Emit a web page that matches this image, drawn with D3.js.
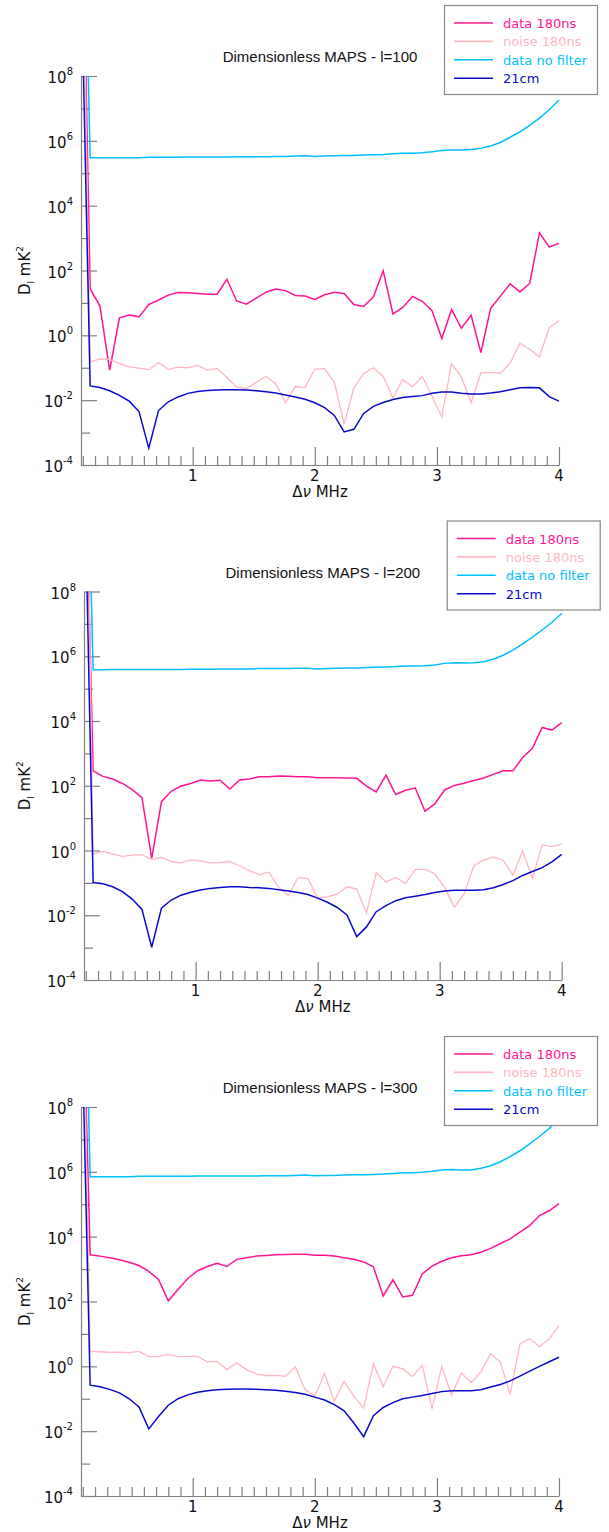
<!DOCTYPE html>
<html>
<head>
<meta charset="utf-8">
<script src="https://cdn.jsdelivr.net/npm/d3@7"></script>
<style>
  body { margin: 0; background: #fff; }
  svg { display: block; }
  text { font-family: "DejaVu Sans", sans-serif; }
</style>
</head>
<body>
<script>
(function(d3){

  // frequency separation, MHz
  var freq = [0.08,0.16,0.24,0.32,0.40,0.48,0.56,0.64,0.72,0.80,0.88,0.96,1.04,1.12,1.20,1.28,1.36,1.44,1.52,1.60,
              1.68,1.76,1.84,1.92,2.00,2.08,2.16,2.24,2.32,2.40,2.48,2.56,2.64,2.72,2.80,2.88,2.96,3.04,3.12,3.20,
              3.28,3.36,3.44,3.52,3.60,3.68,3.76,3.84,3.92,4.00];

  // values are log10(D_l / mK^2)
  var l100_data    = [16.7, 1.43,0.91,-1.07,0.54,0.63, 0.57,0.95,1.09,1.24,1.32, 1.31,1.29,1.27,1.27,1.73, 1.06,0.96,1.15,1.33,1.43,
                      1.38,1.23,1.21,1.11,1.25, 1.33,1.29,0.95,0.89,1.19, 1.99,0.66,0.86,1.20,1.05, 0.76,-0.10,0.80,0.22,0.62,
                      -0.53,0.83,1.21,1.59,1.34, 1.60,3.16,2.72,2.84];
  var l100_noise   = [16.8, -0.82,-0.73,-0.74,-0.87,-0.97, -1.01,-1.06,-0.84,-1.05,-0.98, -1.00,-0.93,-1.08,-1.02,-1.30, -1.60,-1.64,-1.45,-1.27,-1.49,
                      -2.08,-1.58,-1.61,-1.04,-1.03, -1.45,-2.74,-1.62,-1.18,-1.00, -1.27,-1.93,-1.36,-1.59,-1.27, -1.88,-2.51,-0.88,-1.28,-2.08,
                      -1.16,-1.14,-1.17,-0.86,-0.24, -0.43,-0.67,0.24,0.45];
  var l100_nofilt  = [18.7, 5.48,5.48,5.48,5.48,5.48, 5.48,5.49,5.49,5.49,5.49, 5.50,5.50,5.50,5.50,5.50, 5.51,5.51,5.51,5.51,5.52,
                      5.52,5.53,5.54,5.52,5.53, 5.54,5.55,5.55,5.56,5.57, 5.58,5.60,5.62,5.62,5.63, 5.66,5.70,5.72,5.72,5.73,
                      5.77,5.84,5.95,6.11,6.28, 6.48,6.70,6.96,7.26];
  var l100_21cm    = [12.5, -1.56,-1.61,-1.71,-1.85,-2.03, -2.35,-3.48,-2.32,-2.05,-1.90, -1.79,-1.73,-1.70,-1.69,-1.68, -1.68,-1.69,-1.71,-1.74,-1.78,
                      -1.84,-1.90,-1.97,-2.08,-2.23, -2.47,-2.98,-2.90,-2.41,-2.19, -2.07,-1.98,-1.92,-1.89,-1.86, -1.79,-1.75,-1.75,-1.79,-1.81,
                      -1.81,-1.78,-1.74,-1.68,-1.62, -1.61,-1.62,-1.89,-2.03];

  var l200_data    = [14.8, 2.46,2.29,2.21,2.07,1.88, 1.63,-0.24,1.51,1.83,1.99, 2.07,2.18,2.15,2.17,1.90, 2.18,2.21,2.28,2.28,2.30,
                      2.29,2.28,2.28,2.25,2.25, 2.25,2.24,2.23,1.99,1.81, 2.33,1.73,1.86,1.93,1.21, 1.44,1.87,2.01,2.08,2.16,
                      2.24,2.35,2.46,2.46,2.87, 3.16,3.80,3.72,3.95];
  var l200_noise   = [20.0, -0.12,-0.02,-0.11,-0.18,-0.14, -0.13,-0.28,-0.21,-0.34,-0.38, -0.29,-0.32,-0.38,-0.37,-0.34, -0.47,-0.62,-0.75,-0.67,-1.14,
                      -1.39,-0.83,-0.87,-1.46,-1.43, -1.35,-1.12,-1.19,-1.93,-0.69, -0.97,-0.83,-1.02,-0.58,-0.58, -0.72,-1.14,-1.75,-1.34,-0.47,
                      -0.30,-0.20,-0.30,-0.76,-0.02, -0.86,0.18,0.12,0.20];
  var l200_nofilt  = [17.7, 5.58,5.58,5.59,5.59,5.59, 5.59,5.59,5.59,5.59,5.59, 5.60,5.60,5.60,5.61,5.61, 5.61,5.61,5.62,5.62,5.62,
                      5.62,5.63,5.63,5.61,5.62, 5.63,5.64,5.64,5.65,5.66, 5.67,5.68,5.70,5.70,5.71, 5.73,5.78,5.80,5.79,5.80,
                      5.83,5.91,6.03,6.19,6.38, 6.59,6.81,7.05,7.32];
  var l200_21cm    = [13.5, -0.99,-1.03,-1.12,-1.27,-1.50, -1.82,-2.99,-1.78,-1.53,-1.38, -1.29,-1.22,-1.17,-1.14,-1.12, -1.12,-1.14,-1.15,-1.17,-1.21,
                      -1.25,-1.30,-1.36,-1.47,-1.60, -1.76,-1.99,-2.66,-2.36,-1.89, -1.70,-1.55,-1.46,-1.41,-1.36, -1.30,-1.25,-1.23,-1.23,-1.23,
                      -1.21,-1.15,-1.05,-0.93,-0.77, -0.65,-0.53,-0.35,-0.12];

  var l300_data    = [14.6, 3.44,3.40,3.35,3.29,3.21, 3.11,2.93,2.68,2.02,2.37, 2.71,2.95,3.08,3.18,3.08, 3.30,3.35,3.40,3.42,3.44,
                      3.45,3.46,3.46,3.43,3.43, 3.40,3.35,3.30,3.22,3.07, 2.17,2.67,2.14,2.19,2.85, 3.09,3.24,3.35,3.41,3.44,
                      3.52,3.64,3.79,3.93,4.14, 4.34,4.65,4.80,5.02];
  var l300_noise   = [16.0, 0.46,0.45,0.43,0.44,0.42, 0.46,0.30,0.30,0.37,0.30, 0.31,0.31,0.14,0.15,-0.10, 0.11,-0.10,-0.23,-0.29,-0.28,
                      -0.31,-0.02,-0.72,-0.91,-0.23, -1.08,-0.46,-0.92,-1.29,0.08, -0.63,0.00,-0.08,-0.31,0.03, -1.31,0.00,-0.89,-0.21,-0.50,
                      -0.18,0.39,0.13,-0.87,0.69, 0.85,0.61,0.85,1.25];
  var l300_nofilt  = [18.5, 5.85,5.85,5.85,5.85,5.85, 5.86,5.86,5.86,5.86,5.86, 5.86,5.87,5.87,5.87,5.87, 5.87,5.87,5.87,5.88,5.88,
                      5.88,5.89,5.90,5.88,5.89, 5.89,5.90,5.91,5.91,5.92, 5.93,5.95,5.97,5.97,5.99, 6.02,6.06,6.07,6.06,6.06,
                      6.11,6.19,6.31,6.47,6.65, 6.86,7.09,7.34,7.63];
  var l300_21cm    = [12.6, -0.58,-0.63,-0.71,-0.82,-1.00, -1.25,-1.93,-1.55,-1.20,-1.00, -0.88,-0.80,-0.75,-0.72,-0.71, -0.70,-0.70,-0.71,-0.72,-0.74,
                      -0.77,-0.81,-0.86,-0.95,-1.04, -1.18,-1.37,-1.75,-2.17,-1.52, -1.27,-1.12,-1.00,-0.95,-0.90, -0.84,-0.78,-0.75,-0.75,-0.75,
                      -0.72,-0.64,-0.56,-0.45,-0.30, -0.15,0.00,0.14,0.28];

  var seriesNames  = ['data 180ns', 'noise 180ns', 'data no filter', '21cm'];
  var seriesColors = ['#ff1493', '#ffb6c1', '#00bfff', '#0a0acd'];
  var ells         = ['100', '200', '300'];
  var xTickLabels  = ['1', '2', '3', '4'];
  var yTickExps    = [8, 6, 4, 2, 0, -2, -4];
  var yMinorExps   = [7, 5, 3, 1, -1, -3];

  var panelData = [
    [l100_data, l100_noise, l100_nofilt, l100_21cm],
    [l200_data, l200_noise, l200_nofilt, l200_21cm],
    [l300_data, l300_noise, l300_nofilt, l300_21cm]
  ];

  // where each panel sits on the page
  var layout = [
    {top: 76,    bottom: 465,  left: 81, right: 559},
    {top: 591.5, bottom: 980,  left: 84, right: 561.7},
    {top: 1107,  bottom: 1496, left: 81, right: 559}
  ];

  var axisColor = '#808080';

  var svg = d3.select('body').append('svg')
      .attr('width', 609)
      .attr('height', 1532);

  panelData.forEach(function(series, p) {
    var L = layout[p];
    var g = svg.append('g');

    var x = d3.scaleLinear().domain([0.085, 4]).range([L.left, L.right]);
    var y = d3.scaleLog().domain([1e-4, 1e8]).range([L.bottom, L.top]);

    var clipId = 'clip' + p;
    g.append('clipPath').attr('id', clipId)
      .append('rect')
        .attr('x', L.left).attr('y', L.top)
        .attr('width', L.right - L.left + 1).attr('height', L.bottom - L.top);

    // y axis, ticks point into the plot
    g.append('g')
        .attr('transform', 'translate(' + L.left + ',0)')
        .call(d3.axisRight(y)
          .tickValues(yTickExps.map(function(e){ return Math.pow(10, e); }))
          .tickSize(16).tickSizeOuter(0).tickFormat(''));
    var yMinor = g.append('g')
        .attr('transform', 'translate(' + L.left + ',0)')
        .call(d3.axisRight(y)
          .tickValues(yMinorExps.map(function(e){ return Math.pow(10, e); }))
          .tickSize(9).tickSizeOuter(0).tickFormat(''));
    yMinor.select('.domain').remove();

    // x axis
    g.append('g')
        .attr('transform', 'translate(0,' + L.bottom + ')')
        .call(d3.axisTop(x)
          .tickValues(xTickLabels.map(Number))
          .tickSize(18).tickSizeOuter(0).tickFormat(''));
    var minorX = d3.range(1, 40).map(function(k){ return k / 10; })
        .filter(function(v){ return Math.abs(v - Math.round(v)) > 1e-6; });
    var xMinor = g.append('g')
        .attr('transform', 'translate(0,' + L.bottom + ')')
        .call(d3.axisTop(x).tickValues(minorX).tickSize(9).tickSizeOuter(0).tickFormat(''));
    xMinor.select('.domain').remove();

    g.selectAll('.domain').attr('stroke', axisColor).attr('stroke-width', 1.2);
    g.selectAll('.tick line').attr('stroke', axisColor).attr('stroke-width', 1.2);

    // y tick labels 10^n
    var yl = g.selectAll('.ylab').data(yTickExps).enter().append('text')
        .attr('class', 'ylab')
        .attr('x', L.left - 8)
        .attr('y', function(e){ return y(Math.pow(10, e)) + 7; })
        .attr('text-anchor', 'end')
        .attr('font-size', 15)
        .attr('fill', '#111');
    yl.append('tspan').text('10');
    yl.append('tspan').attr('font-size', 10).attr('dy', -8)
        .text(function(e){ return String(e); });

    // x tick labels
    g.selectAll('.xlab').data(xTickLabels).enter().append('text')
        .attr('x', function(d){ return x(+d); })
        .attr('y', L.bottom + 16)
        .attr('text-anchor', 'middle')
        .attr('font-size', 15)
        .attr('fill', '#111')
        .text(function(d){ return d; });

    // axis titles
    var xt = g.append('text')
        .attr('x', (L.left + L.right) / 2)
        .attr('y', L.bottom + 32)
        .attr('text-anchor', 'middle')
        .attr('font-size', 15)
        .attr('fill', '#111');
    xt.append('tspan').text('Δ');
    xt.append('tspan').attr('font-style', 'italic').text('ν');
    xt.append('tspan').text(' MHz');

    var yt = g.append('text')
        .attr('transform', 'translate(30,' + ((L.top + L.bottom) / 2) + ') rotate(-90)')
        .attr('text-anchor', 'middle')
        .attr('font-size', 15)
        .attr('fill', '#111');
    yt.append('tspan').text('D');
    yt.append('tspan').attr('font-size', 9).attr('dy', 4).text('l');
    yt.append('tspan').attr('dy', -4).text(' mK');
    yt.append('tspan').attr('font-size', 9).attr('dy', -7).text('2');

    // chart title
    g.append('text')
        .attr('x', (L.left + L.right) / 2)
        .attr('y', L.top - 14)
        .attr('text-anchor', 'middle')
        .attr('font-size', 15)
        .attr('fill', '#111')
        .style('font-family', '"Liberation Sans", Arial, sans-serif')
        .text('Dimensionless MAPS - l=' + ells[p]);

    // lines
    var line = d3.line()
        .x(function(d, i){ return x(freq[i]); })
        .y(function(d){ return y(Math.pow(10, d)); });

    g.append('g').attr('clip-path', 'url(#' + clipId + ')')
      .selectAll('path').data(series).enter().append('path')
        .attr('d', line)
        .attr('fill', 'none')
        .attr('stroke', function(d, i){ return seriesColors[i]; })
        .attr('stroke-width', function(d, i){ return i === 1 ? 1.3 : 1.5; })
        .attr('stroke-linejoin', 'miter');

    // legend box
    var lx = L.right - 115, ly = L.top - 71;
    var lg = g.append('g').attr('transform', 'translate(' + lx + ',' + ly + ')');
    lg.append('rect')
        .attr('x', 0.5).attr('y', 0.5)
        .attr('width', 153).attr('height', 89)
        .attr('fill', '#fff')
        .attr('stroke', '#888')
        .attr('stroke-width', 1.2);
    var row = lg.selectAll('.row').data(seriesNames).enter().append('g')
        .attr('transform', function(d, i){ return 'translate(0,' + (18 + i * 18.4) + ')'; });
    row.append('line')
        .attr('x1', 10).attr('x2', 49)
        .attr('stroke', function(d, i){ return seriesColors[i]; })
        .attr('stroke-width', 1.6);
    row.append('text')
        .attr('x', 59).attr('y', 5)
        .attr('font-size', 13)
        .attr('fill', function(d, i){ return seriesColors[i]; })
        .text(function(d){ return d; });
  });

})(d3);
</script>
</body>
</html>
